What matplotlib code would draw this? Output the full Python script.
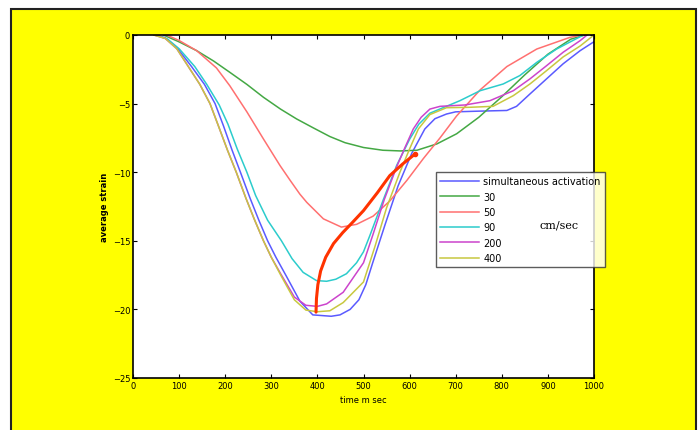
import matplotlib.pyplot as plt
from matplotlib.patches import Rectangle

# time (ms) and average strain
t_sim = [48, 70, 97, 127, 155, 178, 196, 215, 233, 254, 273, 292, 310, 333, 362, 390, 430, 449,
         471, 490, 505, 520, 547, 575, 605, 633, 655, 680, 700, 750, 811, 832, 861, 897, 933, 970,
         1000]
s_sim = [0, -0.2, -1.0, -2.3, -3.6, -5.0, -6.6, -8.4, -10.0, -11.9, -13.5, -15.0, -16.2, -17.6,
         -19.4, -20.4, -20.5, -20.4, -20.0, -19.3, -18.2, -16.6, -13.8, -11.0, -8.6, -6.85, -6.1,
         -5.76, -5.6, -5.55, -5.5, -5.2, -4.3, -3.2, -2.1, -1.14, -0.49]

t_30 = [66, 100, 138, 175, 210, 247, 283, 320, 355, 390, 427, 460, 500, 542, 580, 616, 659, 702,
        750, 800, 850, 900, 950, 980]
s_30 = [0, -0.5, -1.14, -1.9, -2.72, -3.6, -4.54, -5.4, -6.12, -6.75, -7.4, -7.85, -8.2, -8.4,
        -8.45, -8.4, -7.94, -7.2, -6.0, -4.5, -2.9, -1.4, -0.3, 0]

t_50 = [73, 100, 138, 181, 210, 247, 283, 319, 341, 362, 377, 413, 452, 485, 521, 557, 594, 630,
        666, 702, 753, 811, 876, 948, 975]
s_50 = [0, -0.4, -1.14, -2.4, -3.7, -5.6, -7.58, -9.52, -10.6, -11.6, -12.2, -13.4, -14.0,
        -13.8, -13.2, -12.1, -10.6, -9.0, -7.5, -5.9, -4.0, -2.3, -1.02, -0.17, 0]

t_90 = [50, 75, 100, 134, 160, 187, 206, 226, 247, 266, 292, 322, 345, 369, 398, 420, 440, 463,
        485, 500, 514, 543, 572, 600, 620, 644, 709, 753, 803, 839, 876, 919, 977]
s_90 = [0, -0.3, -1.0, -2.3, -3.6, -5.1, -6.5, -8.3, -10.0, -11.7, -13.5, -15.0, -16.3, -17.3,
        -17.9, -17.95, -17.8, -17.4, -16.6, -15.8, -14.6, -12.0, -9.5, -7.6, -6.5, -5.7, -4.79,
        -4.06, -3.57, -2.96, -1.99, -1.02, 0]

t_200 = [45, 70, 95, 120, 145, 167, 185, 205, 224, 245, 264, 283, 300, 322, 350, 375, 400, 420,
         456, 500, 520, 545, 572, 590, 608, 625, 644, 666, 720, 774, 825, 861, 897, 933, 970, 985]
s_200 = [0, -0.25, -1.0, -2.3, -3.6, -5.0, -6.6, -8.4, -10.0, -11.9, -13.5, -15.0, -16.2, -17.5,
         -19.1, -19.7, -19.78, -19.6, -18.75, -16.6, -14.6, -12.0, -9.6, -8.2, -6.85, -6.0, -5.4,
         -5.2, -5.1, -4.79, -4.06, -3.2, -2.24, -1.26, -0.41, 0]

t_400 = [45, 70, 95, 120, 145, 167, 185, 205, 224, 245, 264, 283, 300, 322, 350, 375, 400, 427,
         456, 500, 525, 550, 579, 600, 619, 644, 680, 730, 781, 825, 861, 897, 933, 970, 1000]
s_400 = [0, -0.25, -1.0, -2.3, -3.6, -5.0, -6.6, -8.4, -10.0, -11.9, -13.5, -15.0, -16.2, -17.6,
         -19.3, -20.05, -20.17, -20.1, -19.5, -18.0, -15.4, -12.6, -10.0, -8.3, -6.85, -5.8, -5.3,
         -5.27, -5.2, -4.42, -3.57, -2.6, -1.6, -0.8, 0]

# hand drawn red trace through the minima
t_peak = [397, 398, 401, 407, 418, 435, 455, 475, 500, 530, 557, 585, 612]
s_peak = [-20.2, -19.2, -18.2, -17.2, -16.2, -15.2, -14.4, -13.7, -12.8, -11.5, -10.25, -9.4, -8.67]

labels = ['simultaneous activation', '30', '50', '90', '200', '400']
colors = ['#5a5aff', '#44a844', '#ff7070', '#2ccccc', '#cc44cc', '#c8c840']

fig = plt.figure(figsize=(6.98, 4.31), dpi=100, facecolor='white')
# yellow frame
fig.patches.append(Rectangle((11 / 698, -0.05), (696 - 11) / 698, 1.05 - 10 / 431,
                             transform=fig.transFigure, facecolor='#ffff00',
                             edgecolor='#222222', linewidth=1.5, zorder=-1))

ax = fig.add_axes([133 / 698, 1 - 379 / 431, (594 - 133) / 698, (379 - 36) / 431])
ax.set_facecolor('white')

series = [(t_sim, s_sim), (t_30, s_30), (t_50, s_50), (t_90, s_90), (t_200, s_200), (t_400, s_400)]
for (t, s), c, lab in zip(series, colors, labels):
    ax.plot(t, s, color=c, lw=1.1, label=lab)

ax.plot(t_peak, s_peak, color='#ff3300', lw=2.2, solid_capstyle='round')
ax.plot(t_peak[-1:], s_peak[-1:], 'o', color='#ff3300', ms=3)

ax.set_xlim(0, 1000)
ax.set_ylim(-25, 0)
ax.set_xticks(range(0, 1001, 100))
ax.set_yticks(range(-25, 1, 5))
ax.tick_params(direction='in', top=True, right=True, labelsize=6, length=3, pad=2)
for sp in ax.spines.values():
    sp.set_linewidth(1.2)
ax.set_xlabel('time m sec', fontsize=6, labelpad=4)
ax.set_ylabel('average strain', fontsize=6, fontweight='bold', labelpad=3)

leg = ax.legend(loc='upper left', bbox_to_anchor=(436 / 698, 1 - 173 / 431),
                bbox_transform=fig.transFigure, fontsize=7, frameon=True, fancybox=False,
                edgecolor='#333333', handlelength=4.0, handletextpad=0.4, labelspacing=0.55,
                borderpad=0.45, borderaxespad=0)
leg.get_frame().set_linewidth(1.0)
fig.text(559 / 698, 1 - 225 / 431, 'cm/sec', fontsize=8, family='serif', ha='center', va='center')

fig.savefig('out.png', dpi=100)
